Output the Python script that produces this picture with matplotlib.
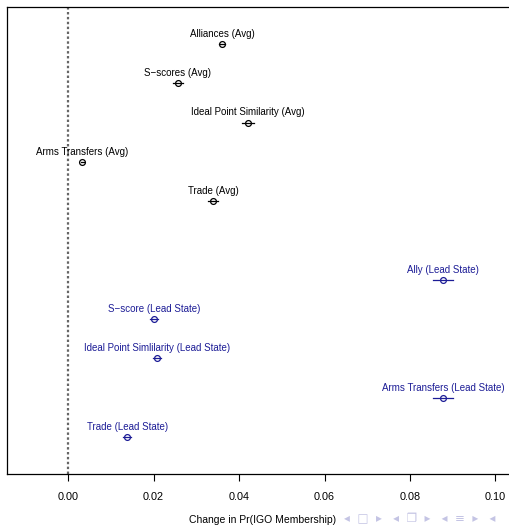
import matplotlib
matplotlib.use("Agg")
import matplotlib.pyplot as plt

# effects, top to bottom (position 11 -> 1, slot 6 left empty)
labels = ["Alliances (Avg)", "S\u2212scores (Avg)", "Ideal Point Similarity (Avg)",
          "Arms Transfers (Avg)", "Trade (Avg)",
          "Ally (Lead State)", "S\u2212score (Lead State)",
          "Ideal Point Simlilarity (Lead State)", "Arms Transfers (Lead State)",
          "Trade (Lead State)"]
positions = [11, 10, 9, 8, 7, 5, 4, 3, 2, 1]
estimates = [0.0360, 0.0257, 0.0421, 0.0033, 0.0339,
             0.0877, 0.0201, 0.0208, 0.0877, 0.0138]
half_ci = [0.0006, 0.0011, 0.0014, 0.0004, 0.0011,
           0.0023, 0.0010, 0.0009, 0.0023, 0.0010]
groups = ["avg"] * 5 + ["lead"] * 5
colors = {"avg": "black", "lead": "#1c1c96"}

plt.rcParams["font.family"] = ["Liberation Sans", "DejaVu Sans"]

fig = plt.figure(figsize=(5.09, 5.26), dpi=100)
ax = fig.add_axes([7 / 509, 1 - 474 / 526, 512 / 509, 467 / 526])

ax.axvline(0, color="#666666", linestyle=(0, (1.1, 1.1)), linewidth=1.6, zorder=1)

for lab, y, est, ci, g in zip(labels, positions, estimates, half_ci, groups):
    c = colors[g]
    ax.plot([est - ci, est + ci], [y, y], color=c, linewidth=0.9, zorder=2)
    ax.plot(est, y, marker="o", markersize=4.2, markerfacecolor="none",
            markeredgecolor=c, markeredgewidth=0.9, zorder=3)
    ax.text(est, y + 0.13, lab, ha="center", va="bottom", fontsize=7.0, color=c)

ax.set_xlim(-0.0143, 0.1055)
ax.set_ylim(0.06, 11.94)
ax.set_yticks([])
ax.set_xticks([0, 0.02, 0.04, 0.06, 0.08, 0.10])
ax.set_xticklabels(["0.00", "0.02", "0.04", "0.06", "0.08", "0.10"])
ax.tick_params(axis="x", direction="out", length=5, width=0.8, labelsize=7.8, pad=8)
for side in ["left", "top", "right", "bottom"]:
    ax.spines[side].set_linewidth(0.9)
ax.set_xlabel("Change in Pr(IGO Membership)", fontsize=7.5, labelpad=9)

# beamer navigation symbols
fig.text(344 / 509, 1 - 519 / 526,
         "\u25c2  \u25a1  \u25b8   \u25c2  \u2750  \u25b8   \u25c2  \u2261  \u25b8   \u25c2",
         fontsize=8.5, color="#c4c4e4", ha="left", va="center",
         family=["DejaVu Sans"])

fig.savefig("out.png", dpi=100)
